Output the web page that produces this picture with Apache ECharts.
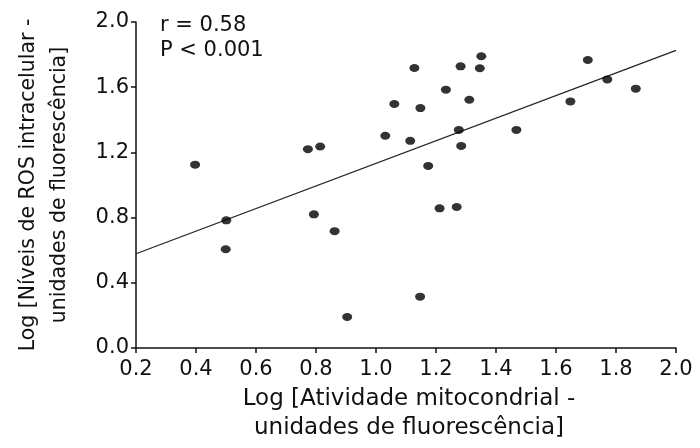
<!DOCTYPE html>
<html>
<head>
<meta charset="utf-8">
<script src="https://cdn.jsdelivr.net/npm/echarts@6/dist/echarts.min.js"></script>
<style>html,body{margin:0;padding:0;background:#fff}#c{width:700px;height:448px}</style>
</head>
<body>
<div id="c"></div>
<script>
// Data
var xValues = [0.397, 0.501, 0.499, 0.773, 0.814, 0.793, 0.862, 0.904, 1.031, 1.061,
               1.114, 1.128, 1.148, 1.147, 1.174, 1.212, 1.269, 1.233, 1.282, 1.276,
               1.284, 1.311, 1.346, 1.351, 1.468, 1.648, 1.706, 1.771, 1.866];
var yValues = [1.125, 0.783, 0.606, 1.220, 1.236, 0.820, 0.717, 0.190, 1.302, 1.497,
               1.271, 1.718, 1.472, 0.315, 1.117, 0.857, 0.865, 1.585, 1.728, 1.338,
               1.240, 1.523, 1.716, 1.790, 1.338, 1.513, 1.767, 1.648, 1.591];
var fitX = [0.2, 2.0];
var fitY = [0.578, 1.826];
var xTicks = ['0.2','0.4','0.6','0.8','1.0','1.2','1.4','1.6','1.8','2.0'];
var yTicks = ['0.0','0.4','0.8','1.2','1.6','2.0'];
var xTitle = ['Log [Atividade mitocondrial -', 'unidades de fluorescência]'];
var yTitle = ['Log [Níveis de ROS intracelular -', 'unidades de fluorescência]'];
var statLines = ['r = 0.58', 'P < 0.001'];

var FONT = 'DejaVu Sans';
var points = xValues.map(function (x, i) { return [x, yValues[i]]; });
var fitLine = fitX.map(function (x, i) { return [x, fitY[i]]; });

var chart = echarts.init(document.getElementById('c'));
chart.setOption({
  animation: false,
  backgroundColor: '#fff',
  grid: { left: 136, right: 24, top: 22, bottom: 100, containLabel: false },
  xAxis: {
    type: 'value', min: 0.2, max: 2.0, interval: 0.2,
    axisLine: { show: true, onZero: false, lineStyle: { color: '#111', width: 1.5 } },
    axisTick: { show: true, length: 5, lineStyle: { color: '#111', width: 1.5 } },
    splitLine: { show: false },
    axisLabel: { color: '#111', fontFamily: FONT, fontSize: 21, margin: 11,
      formatter: function (v) { var s = v.toFixed(1); return xTicks.indexOf(s) >= 0 ? s : ''; } },
    name: xTitle.join('\n'), nameLocation: 'middle', nameGap: 32,
    nameTextStyle: { color: '#111', fontFamily: FONT, fontSize: 23, lineHeight: 29,
      padding: [0, 0, 0, 6], verticalAlign: 'top' }
  },
  yAxis: {
    type: 'value', min: 0, max: 2.0, interval: 0.4,
    axisLine: { show: true, onZero: false, lineStyle: { color: '#111', width: 1.5 } },
    axisTick: { show: true, length: 5, lineStyle: { color: '#111', width: 1.5 } },
    splitLine: { show: false },
    axisLabel: { color: '#111', fontFamily: FONT, fontSize: 21, margin: 7,
      formatter: function (v) { var s = v.toFixed(1); return yTicks.indexOf(s) >= 0 ? s : ''; } },
    name: yTitle.join('\n'), nameLocation: 'middle', nameGap: 61,
    nameTextStyle: { color: '#111', fontFamily: FONT, fontSize: 20.5, lineHeight: 31 }
  },
  graphic: [{
    type: 'text', left: 160, top: 13,
    style: { text: statLines.join('\n'), fontFamily: FONT, fontSize: 21, lineHeight: 25, fill: '#111' }
  }],
  series: [
    { type: 'line', data: fitLine, showSymbol: false, symbol: 'none',
      lineStyle: { color: '#222', width: 1.2 }, z: 1 },
    { type: 'scatter', data: points, symbol: 'circle', symbolSize: [10, 8],
      itemStyle: { color: '#000' }, z: 2 }
  ]
});
</script>
</body>
</html>
